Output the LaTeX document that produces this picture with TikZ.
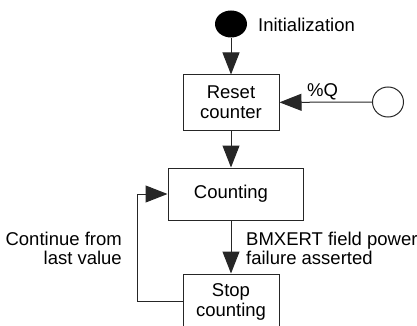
\documentclass[tikz,border=0pt]{standalone}
\usepackage{fontspec}
\setmainfont{Liberation Sans}
\usetikzlibrary{arrows.meta,shapes.geometric}
\tikzset{
  box/.style={draw=black!85, line width=1pt, rectangle, inner sep=0pt, align=center, font=\fontsize{18.5}{20}\selectfont},
  flow/.style={draw=black!85, line width=1pt, -{Triangle[length=22pt,width=17pt]}},
  lbl/.style={inner sep=0pt, font=\fontsize{18.5}{18.5}\selectfont}
}
\begin{document}
\begin{tikzpicture}[x=1pt,y=-1pt]
\useasboundingbox (0,0) rectangle (417,326);
\node[ellipse, fill=black, minimum width=32pt, minimum height=27pt, inner sep=0pt] (init) at (231,24) {};
\node[lbl, anchor=west] (initl) at (258,25) {Initialization};
\node[box, minimum width=96pt, minimum height=55pt] (reset) at (231,102.5) {Reset\\counter};
\node[ellipse, draw=black!85, line width=1pt, fill=white, minimum width=31pt, minimum height=30pt, inner sep=0pt] (q) at (388,102) {};
\node[lbl, anchor=south west] (ql) at (307,100) {\%Q};
\node[box, minimum width=135pt, minimum height=52pt] (count) at (235.5,194) {\hspace*{-9pt}Counting};
\node[box, minimum width=96pt, minimum height=56pt] (stop) at (231,302) {Stop\\counting};
\node[lbl, align=right, anchor=north east] (cont) at (122,232) {Continue from\\last value};
\node[lbl, align=left, anchor=north west] (bmx) at (246,232) {BMXERT field power\\failure asserted};
\draw[flow] (init) -- (reset);
\draw[flow] (q) -- (reset);
\draw[flow] (reset.south) -- (reset.south |- count.north);
\draw[flow] (count.south -| stop.north) -- (stop);
\coordinate (lb) at (137,301);
\coordinate (lt) at (137,194);
\draw[flow] (stop.west |- lb) -- (lb) -- (lt) -- (count.west);
\end{tikzpicture}
\end{document}
